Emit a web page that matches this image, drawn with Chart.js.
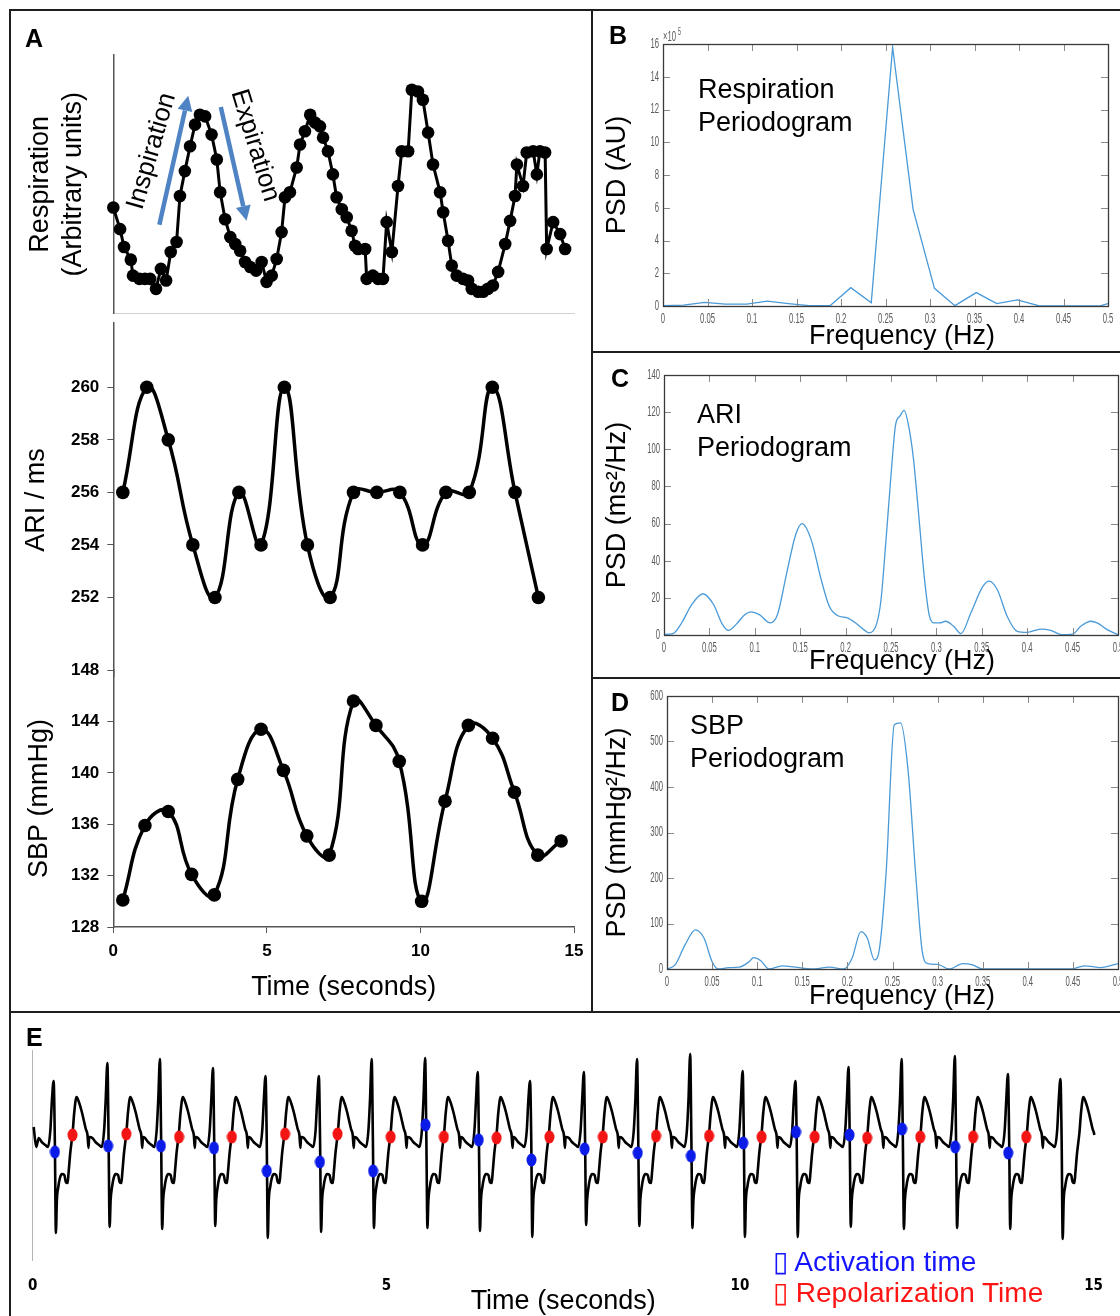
<!DOCTYPE html>
<html>
<head>
<meta charset="utf-8">
<title>Respiration, ARI and SBP</title>
<script src="https://cdn.jsdelivr.net/npm/chart.js@4.4.1/dist/chart.umd.min.js"></script>
<style>
  html, body { margin: 0; background: #fff; }
  #fig { position: relative; width: 1120px; height: 1316px; overflow: hidden;
         font-family: 'Liberation Sans', Arial, Helvetica, sans-serif; color: #000; }
  .box { position: absolute; }
  .rule { position: absolute; background: #1e1e1e; }
  .tag { position: absolute; font-weight: bold; font-size: 25px; line-height: 1; }
  .note { position: absolute; font-size: 27px; line-height: 33px; white-space: nowrap; }
  .lbl { position: absolute; font-size: 27px; line-height: 1; white-space: nowrap; }
  .key { position: absolute; font-size: 28px; line-height: 1; white-space: nowrap; }
</style>
</head>
<body>
<div id="fig">
  <div class="box" style="left:10px;top:10px;width:582px;height:310px"><canvas id="respChart"></canvas></div>
  <div class="box" style="left:10px;top:305px;width:582px;height:390px"><canvas id="ariChart"></canvas></div>
  <div class="box" style="left:10px;top:652px;width:582px;height:360px"><canvas id="sbpChart"></canvas></div>
  <div class="box" style="left:593px;top:11px;width:527px;height:340px"><canvas id="respPsd"></canvas></div>
  <div class="box" style="left:593px;top:353px;width:527px;height:324px"><canvas id="ariPsd"></canvas></div>
  <div class="box" style="left:593px;top:679px;width:527px;height:332px"><canvas id="sbpPsd"></canvas></div>
  <div class="box" style="left:11px;top:1013px;width:1109px;height:303px"><canvas id="ecgChart"></canvas></div>

  <!-- panel frame -->
  <div class="rule" style="left:9px;top:9px;width:1111px;height:2px"></div>
  <div class="rule" style="left:9px;top:9px;width:2px;height:1307px"></div>
  <div class="rule" style="left:591px;top:9px;width:2px;height:1004px"></div>
  <div class="rule" style="left:591px;top:351px;width:529px;height:2px"></div>
  <div class="rule" style="left:591px;top:677px;width:529px;height:2px"></div>
  <div class="rule" style="left:9px;top:1011px;width:1111px;height:2px"></div>

  <div class="tag" style="left:25px;top:26px">A</div>
  <div class="tag" style="left:609px;top:23px">B</div>
  <div class="tag" style="left:611px;top:366px">C</div>
  <div class="tag" style="left:611px;top:690px">D</div>
  <div class="tag" style="left:26px;top:1025px">E</div>

  <div class="note" style="left:698px;top:73px">Respiration<br>Periodogram</div>
  <div class="note" style="left:697px;top:398px">ARI<br>Periodogram</div>
  <div class="note" style="left:690px;top:709px">SBP<br>Periodogram</div>

  <div class="lbl" style="left:809px;top:322px">Frequency (Hz)</div>
  <div class="lbl" style="left:809px;top:647px">Frequency (Hz)</div>
  <div class="lbl" style="left:809px;top:982px">Frequency (Hz)</div>

  <div class="key" style="left:773px;top:1248px;color:#1414ff">▯ Activation time</div>
  <div class="key" style="left:773px;top:1279px;color:#ff1414">▯ Repolarization Time</div>
</div>

<script>
// ── Data: panel A (time in seconds) ──────────────────────
const respTime = [0.00, 0.22, 0.35, 0.57, 0.64, 0.85, 1.03, 1.20, 1.39, 1.55, 1.72, 1.87, 2.06, 2.17,
  2.33, 2.50, 2.66, 2.82, 2.99, 3.20, 3.37, 3.48, 3.64, 3.81, 3.97, 4.13, 4.29, 4.46, 4.65, 4.83,
  4.99, 5.16, 5.32, 5.48, 5.59, 5.75, 5.97, 6.08, 6.24, 6.41, 6.57, 6.73, 6.83, 6.99, 7.15, 7.27,
  7.44, 7.60, 7.76, 7.87, 7.97, 8.20, 8.25, 8.45, 8.62, 8.78, 8.90, 9.07, 9.27, 9.39, 9.60, 9.72,
  9.92, 10.08, 10.25, 10.41, 10.64, 10.74, 10.90, 11.02, 11.18, 11.39, 11.55, 11.67, 11.88, 12.04,
  12.20, 12.36, 12.53, 12.76, 12.92, 13.08, 13.14, 13.34, 13.46, 13.67, 13.79, 13.89, 14.06, 14.11,
  14.32, 14.55, 14.71];
const respValue = [10.67, 8.5, 6.7, 5.43, 3.83, 3.5, 3.5, 3.5, 2.5, 4.5, 3.33, 6.2, 7.2, 11.83,
  14.33, 16.83, 19.0, 20.0, 19.83, 18.0, 15.5, 12.2, 9.5, 7.7, 7.0, 6.33, 5.2, 4.7, 4.33, 5.2,
  3.2, 3.83, 5.5, 8.2, 11.7, 12.2, 14.7, 17.0, 18.33, 20.0, 19.2, 18.83, 17.7, 16.33, 14.0, 11.7,
  10.5, 9.7, 8.33, 6.83, 6.5, 6.5, 3.5, 3.83, 3.5, 3.5, 9.2, 6.2, 12.83, 16.33, 16.33, 22.5,
  22.33, 21.5, 18.2, 15.0, 12.2, 10.2, 7.33, 4.83, 3.83, 3.5, 3.33, 2.5, 2.2, 2.2,
  2.5, 2.83, 4.2, 7.0, 9.33, 11.83, 15.0, 12.83, 16.2, 16.33, 14.0, 16.33, 16.2, 6.5,
  9.2, 8.0, 6.5];

const ariTime = [0.31, 1.09, 1.79, 2.59, 3.31, 4.09, 4.81, 5.57, 6.32, 7.06, 7.82, 8.58, 9.33,
  10.07, 10.83, 11.59, 12.34, 13.08, 13.84];
const ariValue = [256, 260, 258, 254, 252, 256, 254, 260, 254, 252, 256, 256, 256, 254, 256, 256,
  260, 256, 252];
const ariTicks = [252, 254, 256, 258, 260];

const sbpTime = [0.31, 1.03, 1.79, 2.55, 3.29, 4.05, 4.81, 5.54, 6.30, 7.03, 7.82, 8.55, 9.31,
  10.04, 10.80, 11.56, 12.35, 13.06, 13.82, 14.58];
const sbpValue = [130.1, 135.9, 137.0, 132.1, 130.5, 139.5, 143.4, 140.2, 135.1, 133.6, 145.6,
  143.7, 140.9, 130.0, 137.8, 143.7, 142.7, 138.5, 133.6, 134.7];

// arrows over the respiration trace, in (seconds, units)
const breathArrows = [
  { text: "Inspiration", from: [1.50, 8.93], to: [2.44, 21.9], label: [1.25, 16.33], angle: -74 },
  { text: "Expiration", from: [3.50, 20.77], to: [4.34, 9.33], label: [4.61, 16.9], angle: 73 },
];

// ── Data: periodograms (Hz) ──────────────────────────────
const respFreq = [0, 0.023, 0.047, 0.070, 0.094, 0.117, 0.141, 0.164, 0.188, 0.211, 0.234, 0.258,
  0.281, 0.305, 0.328, 0.352, 0.375, 0.398, 0.422, 0.445, 0.469, 0.492, 0.5];
const respPsd = [0.02, 0.05, 0.22, 0.12, 0.12, 0.30, 0.15, 0.02, 0.03, 1.12, 0.20, 15.8, 5.9, 1.08,
  0.02, 0.82, 0.15, 0.37, 0.02, 0.01, 0.01, 0.02, 0.15];

const ariFreq = [0, 0.01, 0.02, 0.03, 0.043, 0.055, 0.064, 0.071, 0.08, 0.088, 0.096, 0.105, 0.117,
  0.125, 0.135, 0.145, 0.152, 0.162, 0.173, 0.182, 0.191, 0.202, 0.211, 0.22, 0.226, 0.2345, 0.239,
  0.244, 0.25, 0.255, 0.26, 0.2645, 0.27, 0.2747, 0.281, 0.2865, 0.292, 0.297, 0.304, 0.31, 0.319,
  0.327, 0.338, 0.351, 0.358, 0.367, 0.378, 0.389, 0.4, 0.415, 0.426, 0.438, 0.45, 0.459, 0.47,
  0.477, 0.488, 0.5];
const ariPsd = [0.3, 0.8, 7, 16, 22.2, 16, 6, 2.5, 6, 10.5, 12.4, 11, 6.5, 11, 33, 54, 60, 51.5,
  30, 15.5, 10.5, 9.2, 6.5, 2.9, 1.1, 6.5, 19, 48, 86, 113, 118, 121, 111, 95, 62, 32, 11, 6.5,
  6.5, 7.4, 4.7, 0.7, 12, 26, 29, 24.5, 10, 2, 1.4, 3.2, 2.5, 0.2, 0.5, 4.7, 7.4, 6.5, 2.9, 0.2];

const sbpFreq = [0, 0.009, 0.02, 0.0315, 0.041, 0.05, 0.057, 0.0685, 0.08, 0.091, 0.096, 0.104,
  0.113, 0.128, 0.142, 0.161, 0.18, 0.196, 0.205, 0.215, 0.222, 0.23, 0.235, 0.243, 0.252, 0.259,
  0.267, 0.276, 0.283, 0.289, 0.3, 0.313, 0.328, 0.339, 0.35, 0.4, 0.448, 0.463, 0.481, 0.5];
const sbpPsd = [0, 9, 53, 86, 68, 16, 0, 3, 4, 16, 25, 18, 0, 7, 4, 0, 4, 0, 23, 82, 68, 20, 38,
  214, 537, 541, 442, 200, 38, 12, 10, 0, 12, 9, 0, 0, 0, 7, 3, 12];

// ── Data: electrogram (panel E) ──────────────────────────
const ecgLeadIn = [[0.014, 0.13], [0.05, -0.07]];
// one beat, offsets in s from the R peak; "R" / "S" take the per-beat amplitudes
const beatOffset = [-0.211, -0.169, -0.117, -0.080, -0.046, -0.024, 0, 0.017, 0.032, 0.046, 0.066,
  0.089, 0.117, 0.151, 0.173, 0.197, 0.211, 0.235, 0.268, 0.292, 0.324, 0.362, 0.399, 0.432,
  0.455, 0.479, 0.493, 0.503];
const beatLevel = [0.02, -0.02, -0.05, -0.07, 0.10, 0.40, "R", 0.0, "S", -0.60, -0.47, -0.38,
  -0.34, -0.35, -0.42, -0.43, -0.33, -0.13, 0.07, 0.28, 0.43, 0.37, 0.28, 0.18, 0.11, 0.05, -0.08,
  0.03];
const rPeakTime = [0.296, 1.056, 1.799, 2.549, 3.292, 4.046, 4.793, 5.549, 6.292, 7.032, 7.793,
  8.545, 9.296, 10.038, 10.785, 11.535, 12.286, 13.038, 13.789, 14.531];
const rPeakAmp = [0.59, 0.77, 0.81, 0.72, 0.64, 0.64, 0.81, 0.82, 0.68, 0.59, 0.68, 0.81, 0.86,
  0.69, 0.59, 0.73, 0.81, 0.84, 0.66, 0.61];
const sTroughAmp = [-0.93, -0.87, -0.89, -0.86, -0.98, -0.92, -0.88, -0.88, -0.91, -0.97, -0.85,
  -0.86, -0.88, -0.97, -0.97, -0.87, -0.89, -0.88, -0.89, -0.99];
const activationTime = [0.314, 1.066, 1.813, 2.563, 3.310, 4.061, 4.813, 5.554, 6.306, 7.052,
  7.803, 8.554, 9.306, 10.046, 10.793, 11.549, 12.292, 13.042, 13.793];
const activationValue = [-0.12, -0.06, -0.06, -0.08, -0.31, -0.22, -0.31, 0.15, 0.00, -0.20, -0.09,
  -0.13, -0.16, -0.03, 0.08, 0.05, 0.11, -0.07, -0.13];
const repolTime = [0.563, 1.324, 2.070, 2.817, 3.568, 4.310, 5.061, 5.813, 6.559, 7.306, 8.061,
  8.813, 9.563, 10.306, 11.056, 11.798, 12.549, 13.296, 14.047];
const repolValue = [0.05, 0.06, 0.03, 0.03, 0.06, 0.06, 0.03, 0.03, 0.02, 0.03, 0.03, 0.04, 0.04,
  0.03, 0.03, 0.02, 0.03, 0.03, 0.03];

// ── Defaults & helpers ───────────────────────────────────
const SANS = "'Liberation Sans', Arial, Helvetica, sans-serif";
const NARROW = "'Liberation Sans Narrow', 'DejaVu Sans Condensed', 'Liberation Sans', Arial, sans-serif";
const PSD_BLUE = "#4a9ad8";
const AXIS_GREY = "#555";

Chart.defaults.font.family = SANS;
Chart.defaults.color = "#000";
Chart.defaults.animation = false;
Chart.defaults.events = [];
Chart.defaults.maintainAspectRatio = false;
Chart.defaults.plugins.legend.display = false;
Chart.defaults.plugins.tooltip.enabled = false;

const pts = (xs, ys) => xs.map((x, i) => ({ x, y: ys[i] }));
const fitWidth = (w) => (axis) => { axis.width = w; };
const fitHeight = (h) => (axis) => { axis.height = h; };

function dot(color) {
  const c = document.createElement("canvas");
  c.width = 11;
  c.height = 14;
  const g = c.getContext("2d");
  g.fillStyle = color;
  g.beginPath();
  g.ellipse(5.5, 7, 5, 6.5, 0, 0, Math.PI * 2);
  g.fill();
  return c;
}

// blue arrows + rotated words over the breathing trace
const breathNotes = {
  id: "breathNotes",
  afterDatasetsDraw(chart) {
    const { ctx, scales: { x, y } } = chart;
    ctx.save();
    breathArrows.forEach((a) => {
      const x0 = x.getPixelForValue(a.from[0]), y0 = y.getPixelForValue(a.from[1]);
      const x1 = x.getPixelForValue(a.to[0]), y1 = y.getPixelForValue(a.to[1]);
      const ang = Math.atan2(y1 - y0, x1 - x0);
      const head = 15, half = 7.5;
      const bx = x1 - head * Math.cos(ang), by = y1 - head * Math.sin(ang);
      ctx.strokeStyle = ctx.fillStyle = "#4f84c4";
      ctx.lineWidth = 4.5;
      ctx.beginPath();
      ctx.moveTo(x0, y0);
      ctx.lineTo(bx, by);
      ctx.stroke();
      ctx.beginPath();
      ctx.moveTo(x1, y1);
      ctx.lineTo(bx + half * Math.sin(ang), by - half * Math.cos(ang));
      ctx.lineTo(bx - half * Math.sin(ang), by + half * Math.cos(ang));
      ctx.closePath();
      ctx.fill();

      ctx.save();
      ctx.translate(x.getPixelForValue(a.label[0]), y.getPixelForValue(a.label[1]));
      ctx.rotate((a.angle * Math.PI) / 180);
      ctx.font = "26px " + SANS;
      ctx.fillStyle = "#000";
      ctx.textAlign = "center";
      ctx.textBaseline = "middle";
      ctx.fillText(a.text, 0, 0);
      ctx.restore();
    });
    ctx.restore();
  },
};

// boxed axes with inward ticks and narrow tick labels for the periodograms
function squeezed(ctx, text, x, y, align) {
  ctx.save();
  ctx.translate(x, y);
  ctx.scale(0.55, 1);
  ctx.textAlign = align;
  ctx.fillText(text, 0, 0);
  ctx.restore();
}

const psdFrame = {
  id: "psdFrame",
  afterDatasetsDraw(chart, args, opts) {
    const { ctx, chartArea: a, scales: { x, y } } = chart;
    ctx.save();
    ctx.strokeStyle = "#8a8a8a";
    ctx.lineWidth = 1;
    ctx.beginPath();
    x.ticks.forEach((t) => {
      const px = Math.round(x.getPixelForValue(t.value)) + 0.5;
      ctx.moveTo(px, a.bottom); ctx.lineTo(px, a.bottom - 7);
      ctx.moveTo(px, a.top); ctx.lineTo(px, a.top + 7);
    });
    y.ticks.forEach((t) => {
      const py = Math.round(y.getPixelForValue(t.value)) + 0.5;
      ctx.moveTo(a.left, py); ctx.lineTo(a.left + 7, py);
      ctx.moveTo(a.right, py); ctx.lineTo(a.right - 7, py);
    });
    ctx.stroke();

    ctx.strokeStyle = "#3a3a3a";
    ctx.lineWidth = 1.3;
    ctx.strokeRect(Math.round(a.left) + 0.5, Math.round(a.top) + 0.5,
      Math.round(a.right - a.left), Math.round(a.bottom - a.top));

    ctx.fillStyle = "#5a5a5a";
    ctx.font = "14px " + SANS;
    ctx.textBaseline = "middle";
    x.ticks.forEach((t) => squeezed(ctx, String(+t.value.toFixed(2)), x.getPixelForValue(t.value), a.bottom + 13, "center"));
    y.ticks.forEach((t) => squeezed(ctx, String(t.value), a.left - 4, y.getPixelForValue(t.value), "right"));

    if (opts.exponent) {
      squeezed(ctx, "×10", a.left, a.top - 7, "left");
      ctx.font = "10px " + SANS;
      squeezed(ctx, opts.exponent, a.left + 15, a.top - 12, "left");
    }
    ctx.restore();
  },
};

// ── Panel A ──────────────────────────────────────────────
const leftTickFont = { size: 17, weight: "bold" };

new Chart(document.getElementById("respChart"), {
  type: "line",
  data: {
    datasets: [{
      data: pts(respTime, respValue),
      borderColor: "#000",
      borderWidth: 3,
      tension: 0,
      pointRadius: 6.3,
      pointBackgroundColor: "#000",
      pointBorderWidth: 0,
      clip: false,
    }],
  },
  options: {
    layout: { padding: { top: 45, right: 18, bottom: 5, left: 0 } },
    scales: {
      x: {
        type: "linear", min: 0, max: 15,
        ticks: { display: false },
        grid: { display: false, drawTicks: false },
        border: { color: "#d2d2d2", width: 1 },
        afterFit: fitHeight(0),
      },
      y: {
        min: 0, max: 26,
        ticks: { display: false },
        grid: { display: false, drawTicks: false },
        border: { color: AXIS_GREY, width: 1.5 },
        title: { display: true, text: ["Respiration", "(Arbitrary units)"], font: { size: 27 }, padding: { top: 14.5, bottom: 0 } },
        afterFit: fitWidth(103.3),
      },
    },
  },
  plugins: [breathNotes],
});

new Chart(document.getElementById("ariChart"), {
  type: "line",
  data: {
    datasets: [{
      data: pts(ariTime, ariValue),
      borderColor: "#000",
      borderWidth: 3.5,
      tension: 0.45,
      pointRadius: 6.8,
      pointBackgroundColor: "#000",
      pointBorderWidth: 0,
      clip: false,
    }],
  },
  options: {
    layout: { padding: { top: 10, right: 18, bottom: 10, left: 0 } },
    scales: {
      x: { type: "linear", min: 0, max: 15, display: false },
      y: {
        min: 248.98, max: 262.44,
        afterBuildTicks: (axis) => { axis.ticks = ariTicks.map((v) => ({ value: v })); },
        ticks: { font: leftTickFont, color: "#000", padding: 8 },
        grid: { drawOnChartArea: false, tickLength: 6, color: AXIS_GREY },
        border: { color: AXIS_GREY, width: 1.5 },
        title: { display: true, text: "ARI / ms", font: { size: 27 }, padding: { top: 10.8, bottom: 0 } },
        afterFit: fitWidth(103.3),
      },
    },
  },
});

new Chart(document.getElementById("sbpChart"), {
  type: "line",
  data: {
    datasets: [{
      data: pts(sbpTime, sbpValue),
      borderColor: "#000",
      borderWidth: 3.5,
      tension: 0.45,
      pointRadius: 6.8,
      pointBackgroundColor: "#000",
      pointBorderWidth: 0,
      clip: false,
    }],
  },
  options: {
    layout: { padding: { top: 10, right: 18, bottom: 0, left: 0 } },
    scales: {
      x: {
        type: "linear", min: 0, max: 15,
        ticks: { stepSize: 5, font: leftTickFont, color: "#000", padding: 8 },
        grid: { drawOnChartArea: false, tickLength: 6, color: AXIS_GREY },
        border: { color: AXIS_GREY, width: 1.5 },
        title: { display: true, text: "Time (seconds)", font: { size: 27 }, padding: { top: 0, bottom: 8 } },
        afterFit: fitHeight(85),
      },
      y: {
        min: 128, max: 148,
        ticks: { stepSize: 4, font: leftTickFont, color: "#000", padding: 8 },
        grid: { drawOnChartArea: false, tickLength: 6, color: AXIS_GREY },
        border: { color: AXIS_GREY, width: 1.5 },
        title: { display: true, text: "SBP (mmHg)", font: { size: 27 }, padding: { top: 13.8, bottom: 0 } },
        afterFit: fitWidth(103.3),
      },
    },
  },
});

// ── Panels B–D: periodograms ─────────────────────────────
function psdChart(id, cfg) {
  return new Chart(document.getElementById(id), {
    type: "line",
    data: {
      datasets: [{
        data: pts(cfg.freq, cfg.psd),
        borderColor: PSD_BLUE,
        borderWidth: 1.3,
        pointRadius: 0,
        tension: 0,
        cubicInterpolationMode: cfg.smooth ? "monotone" : "default",
      }],
    },
    options: {
      layout: { padding: { top: cfg.padTop, right: cfg.padRight, bottom: 0, left: 0 } },
      plugins: { psdFrame: { exponent: cfg.exponent || null } },
      scales: {
        x: {
          type: "linear", min: 0, max: 0.5,
          ticks: { display: false, stepSize: 0.05 },
          grid: { display: false, drawTicks: false },
          border: { display: false },
          afterFit: fitHeight(cfg.xAxisHeight),
        },
        y: {
          min: 0, max: cfg.yMax,
          ticks: { display: false, stepSize: cfg.yStep },
          grid: { display: false, drawTicks: false },
          border: { display: false },
          title: { display: true, text: cfg.yTitle, font: { size: 27 }, padding: { top: 8.8, bottom: 0 } },
          afterFit: fitWidth(cfg.yAxisWidth),
        },
      },
    },
    plugins: [psdFrame],
  });
}

psdChart("respPsd", {
  freq: respFreq, psd: respPsd, smooth: false, yMax: 16, yStep: 2, yTitle: "PSD (AU)",
  padTop: 33, padRight: 12, xAxisHeight: 45, yAxisWidth: 70, exponent: "5",
});
psdChart("ariPsd", {
  freq: ariFreq, psd: ariPsd, smooth: true, yMax: 140, yStep: 20, yTitle: "PSD (ms²/Hz)",
  padTop: 22, padRight: 2, xAxisHeight: 42, yAxisWidth: 71,
});
psdChart("sbpPsd", {
  freq: sbpFreq, psd: sbpPsd, smooth: true, yMax: 600, yStep: 100, yTitle: "PSD (mmHg²/Hz)",
  padTop: 17, padRight: 2, xAxisHeight: 42, yAxisWidth: 74,
});

// ── Panel E: electrogram with activation / repolarisation marks ──
const ecgTrace = ecgLeadIn.map(([x, y]) => ({ x, y }));
rPeakTime.forEach((tR, i) => {
  beatOffset.forEach((dt, j) => {
    let v = beatLevel[j];
    if (v === "R") v = rPeakAmp[i];
    else if (v === "S") v = sTroughAmp[i];
    ecgTrace.push({ x: tR + dt, y: v });
  });
});

new Chart(document.getElementById("ecgChart"), {
  type: "line",
  data: {
    datasets: [
      {
        data: ecgTrace,
        borderColor: "#000",
        borderWidth: 2.6,
        pointRadius: 0,
        cubicInterpolationMode: "monotone",
        clip: false,
        order: 2,
      },
      {
        data: pts(activationTime, activationValue),
        showLine: false,
        pointStyle: dot("#0b1be8"),
        clip: false,
        order: 0,
      },
      {
        data: pts(repolTime, repolValue),
        showLine: false,
        pointStyle: dot("#f31414"),
        clip: false,
        order: 1,
      },
    ],
  },
  options: {
    layout: { padding: { top: 37, right: 25, bottom: 0, left: 0 } },
    scales: {
      x: {
        type: "linear", min: 0, max: 15,
        ticks: { stepSize: 5, font: { family: NARROW, size: 15, weight: "bold" }, color: "#000", padding: 17 },
        grid: { display: false, drawTicks: false },
        border: { display: false },
        title: { display: true, text: "Time (seconds)", font: { size: 27 }, padding: { top: 0, bottom: -2 } },
        afterFit: fitHeight(56),
      },
      y: {
        min: -1.2, max: 0.9,
        ticks: { display: false },
        grid: { display: false, drawTicks: false },
        border: { color: "#b4b4b4", width: 1 },
        afterFit: fitWidth(19),
      },
    },
  },
});
</script>
</body>
</html>
